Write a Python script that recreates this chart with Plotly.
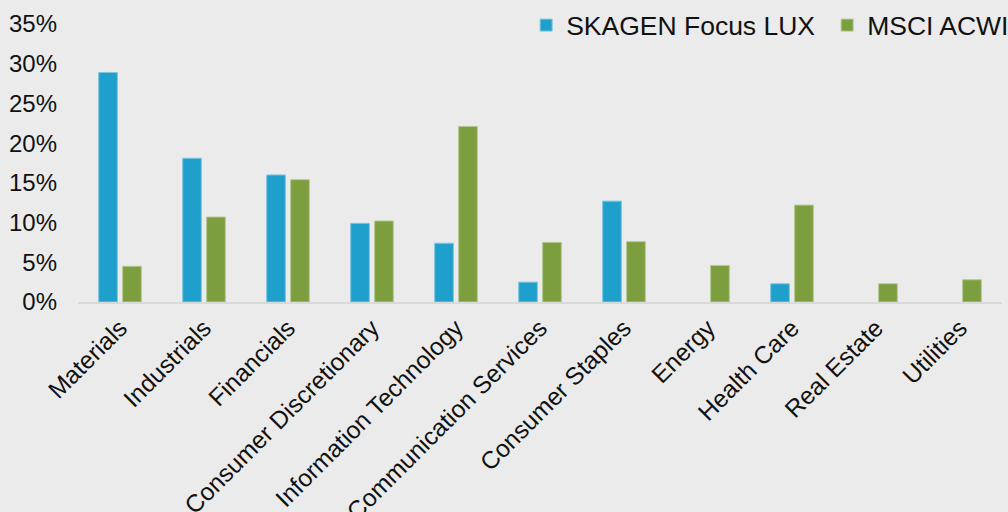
import plotly.graph_objects as go

sectors = ['Materials', 'Industrials', 'Financials', 'Consumer Discretionary',
           'Information Technology', 'Communication Services', 'Consumer Staples',
           'Energy', 'Health Care', 'Real Estate', 'Utilities']
skagen = [28.9, 18.1, 16.0, 9.9, 7.4, 2.5, 12.7, 0, 2.3, 0, 0]
msci = [4.5, 10.7, 15.4, 10.2, 22.1, 7.5, 7.6, 4.6, 12.2, 2.3, 2.8]

fonte = 'Liberation Sans, Arial, sans-serif'

# sem contorno nas barras vazias (senao aparece um risco no zero)
borda_skagen = [1 if v else 0 for v in skagen]
borda_msci = [1 if v else 0 for v in msci]

fig = go.Figure()
fig.add_trace(go.Bar(x=sectors, y=skagen, name='SKAGEN Focus LUX',
                     marker=dict(color='#1F9FCB', line=dict(color='#7FC6E0', width=borda_skagen))))
fig.add_trace(go.Bar(x=sectors, y=msci, name='MSCI ACWI',
                     marker=dict(color='#7C9E3E', line=dict(color='#B2C890', width=borda_msci))))

fig.update_layout(
    width=1008, height=512,
    paper_bgcolor='#EBEBEB', plot_bgcolor='#EBEBEB',
    font=dict(family=fonte, size=24, color='#111111'),
    margin=dict(l=78, r=6, t=24, b=210, autoexpand=False),
    barmode='group', bargap=0.43, bargroupgap=0.22,
    legend=dict(orientation='h', x=0.485, xanchor='left', y=0.995, yanchor='middle',
                font=dict(size=26.5), bgcolor='rgba(0,0,0,0)',
                entrywidth=256, entrywidthmode='pixels'),
)
fig.update_xaxes(showline=True, linecolor='#D9D9D9', linewidth=2, tickangle=-45,
                 showgrid=False, ticks='', fixedrange=True, tickfont=dict(size=24.5))
fig.update_yaxes(range=[0, 35], dtick=5, ticksuffix='%', showgrid=False, zeroline=False,
                 showline=False, ticks='', ticklabelstandoff=20, fixedrange=True)

fig.write_html("out.html", config={'displayModeBar': False},
               post_script="document.body.style.margin='0';")
